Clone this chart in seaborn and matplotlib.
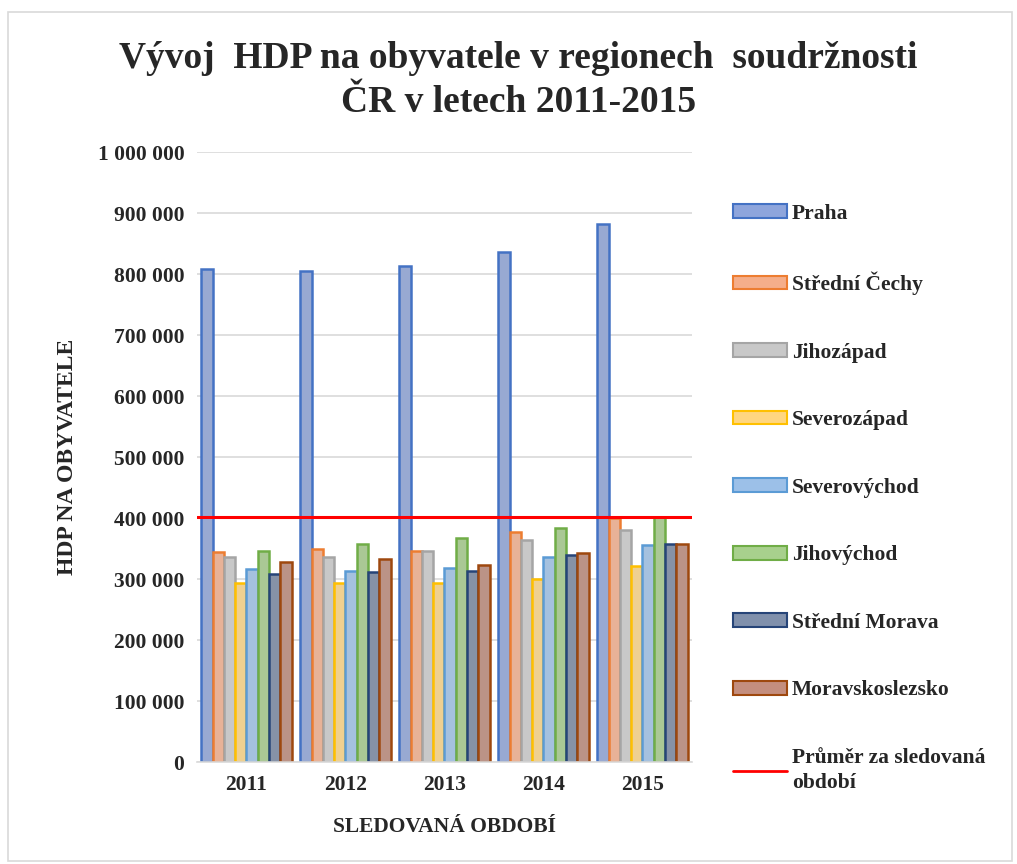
import numpy as np
import pandas as pd
import matplotlib
matplotlib.use("Agg")
import matplotlib.pyplot as plt
import seaborn as sns
from matplotlib.lines import Line2D
from matplotlib.patches import Rectangle
from matplotlib.ticker import FuncFormatter

years = ["2011", "2012", "2013", "2014", "2015"]
regions = ["Praha", "Střední Čechy", "Jihozápad", "Severozápad",
           "Severovýchod", "Jihovýchod", "Střední Morava", "Moravskoslezsko"]

praha = [808000, 805000, 813000, 836000, 882000]
stredni_cechy = [344000, 349000, 346000, 377000, 400000]
jihozapad = [336000, 336000, 346000, 364000, 380000]
severozapad = [293000, 293000, 293000, 300000, 321000]
severovychod = [316000, 313000, 318000, 336000, 356000]
jihovychod = [346000, 357000, 367000, 384000, 402000]
stredni_morava = [308000, 311000, 313000, 339000, 357000]
moravskoslezsko = [328000, 333000, 323000, 343000, 357000]
average = 401500

fills = ["#8EA5DC", "#F5AE8A", "#C8C8C8", "#FFD680",
         "#9CC0E8", "#A8D08D", "#8090AC", "#C48E7E"]
edges = ["#4472C4", "#ED7D31", "#A5A5A5", "#FFC000",
         "#5B9BD5", "#70AD47", "#264478", "#9E480E"]

series = [praha, stredni_cechy, jihozapad, severozapad,
          severovychod, jihovychod, stredni_morava, moravskoslezsko]
df = pd.DataFrame([
    {"rok": y, "region": r, "hdp": v}
    for r, vals in zip(regions, series) for y, v in zip(years, vals)
])

sns.set_theme(style="white")
plt.rcParams["font.family"] = ["Liberation Serif", "DejaVu Serif"]
plt.rcParams["font.weight"] = "bold"

fig = plt.figure(figsize=(10.17, 8.64), dpi=100)
ax = fig.add_axes([0.1937, 0.118, 0.4867, 0.706])

sns.barplot(data=df, x="rok", y="hdp", hue="region", hue_order=regions,
            palette=fills, width=0.91, gap=0, ax=ax, legend=False)
for cont, ec in zip(ax.containers, edges):
    for bar in cont:
        bar.set_edgecolor(ec)
        bar.set_linewidth(1.8)

ax.axhline(average, color="#FF0000", lw=2.2, zorder=5)

ax.set_ylim(0, 1000000)
ax.set_yticks(np.arange(0, 1000001, 100000))
ax.yaxis.set_major_formatter(FuncFormatter(lambda v, p: f"{int(v):,}".replace(",", " ")))
ax.grid(axis="y", color="#D9D9D9", lw=1.2)
ax.set_axisbelow(True)
for s in ["left", "right", "top"]:
    ax.spines[s].set_visible(False)
ax.spines["bottom"].set_color("#D9D9D9")
ax.spines["bottom"].set_linewidth(1.2)
ax.tick_params(axis="both", length=0, labelsize=15.5, pad=9)
for t in ax.get_xticklabels() + ax.get_yticklabels():
    t.set_fontweight("bold")

ax.set_xlabel("SLEDOVANÁ OBDOBÍ", fontsize=15.5, fontweight="bold", labelpad=16)
ax.set_ylabel("HDP NA OBYVATELE", fontsize=17, fontweight="bold", labelpad=14)

fig.suptitle("Vývoj  HDP na obyvatele v regionech  soudržnosti\nČR v letech 2011-2015",
             x=0.51, y=0.952, fontsize=27, fontweight="bold", linespacing=1.3)

handles = [Rectangle((0, 0), 1, 1, facecolor=f, edgecolor=e, lw=1.5)
           for f, e in zip(fills, edges)]
handles.append(Line2D([0], [0], color="#FF0000", lw=2))
labels = regions + ["Průměr za sledovaná\nobdobí"]
leg = fig.legend(handles, labels, loc="upper left", bbox_to_anchor=(0.712, 0.774),
                 frameon=False, prop={"weight": "bold", "size": 15.5},
                 labelspacing=2.21, handlelength=2.5, handleheight=0.6,
                 handletextpad=0.25, borderaxespad=0)
leg.get_texts()[-1].set_linespacing(1.35)

fig.add_artist(Rectangle((0.008, 0.003), 0.987, 0.983, transform=fig.transFigure,
                         fill=False, edgecolor="#D9D9D9", lw=1.2))

fig.savefig("out.png", dpi=100, facecolor="white")
